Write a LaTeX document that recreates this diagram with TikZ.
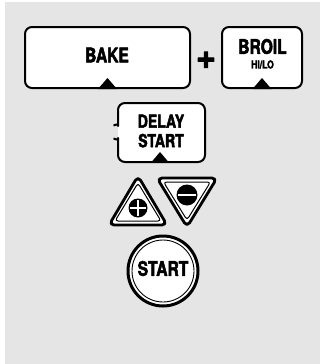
\documentclass[tikz,border=0pt]{standalone}
\usepackage{fontspec}
\newfontfamily\keyfont[FakeStretch=0.78,BoldFeatures={FakeBold=2.5}]{TeX Gyre Heros}
\newfontfamily\signfont[BoldFeatures={FakeBold=3}]{TeX Gyre Heros}
\usetikzlibrary{calc}
\definecolor{panel}{HTML}{E5E5E5}

\begin{document}
\begin{tikzpicture}[x=1pt,y=-1pt,line join=round,
  key/.style={draw,line width=2pt,fill=white,rounded corners=7pt,inner sep=0pt},
  keytext/.style={font=\keyfont\bfseries\fontsize{20}{18}\selectfont,inner sep=0pt},
  smalltext/.style={font=\keyfont\bfseries\fontsize{11}{11}\selectfont,inner sep=0pt},
  pointer/.style={fill=black},
  padring/.style={draw,line width=2.8pt,fill=white,rounded corners=5pt},
  padinner/.style={draw,line width=1pt,rounded corners=3pt}]
  % page with the grey control panel
  \useasboundingbox (0,0) rectangle (320,364);
  \fill[panel] (5,2) rectangle (320,364);

  % top row: BAKE + BROIL
  \node[key,minimum width=165pt,minimum height=61pt] (bake) at (107.5,57.5) {};
  \node[keytext] (bakelabel) at (107,55) {BAKE};
  \fill[pointer] ($(bake.south)+(-9.5,0)$) -- ++(19,0) -- ++(-9.5,-11) -- cycle;

  \node[font=\signfont\bfseries\fontsize{34}{34}\selectfont,inner sep=0pt]
    (plussign) at (206,60) {+};

  \node[key,minimum width=80pt,minimum height=61pt] (broil) at (262,57.5) {};
  \node[keytext] (broillabel) at (262.5,46.5) {BROIL};
  \node[smalltext] (hilolabel) at (262.5,64.5) {HI/LO};
  \fill[pointer] ($(broil.south)+(-9.5,0)$) -- ++(19,0) -- ++(-9.5,-11) -- cycle;

  % DELAY START, left side broken by a small notch
  \fill[white,rounded corners=7pt] (118,103) rectangle (205,162);
  \draw[line width=2pt,rounded corners=7pt]
    (113.5,125.5) .. controls (118,124) .. (118,119) -- (118,103) -- (205,103)
    -- (205,162) -- (118,162) -- (118,145) .. controls (118,140) .. (113.5,138.5);
  \node[keytext,font=\keyfont\bfseries\fontsize{18}{19.5}\selectfont,align=center]
    (delaylabel) at (161,131) {DELAY\\START};
  \coordinate (delaybase) at (160,162);
  \fill[pointer] ($(delaybase)+(-8.5,0)$) -- ++(17,0) -- ++(-8.5,-10) -- cycle;

  % up / down pads
  \begin{scope}[shift={(138,208)}]
    \draw[padring] (0,-32) -- (29,17) -- (-29,17) -- cycle;
    \draw[padinner] (0,-25) -- (23,13) -- (-23,13) -- cycle;
    \fill (0,0) circle (9.5pt);
    \draw[white,line width=1.8pt] (-8,0) -- (8,0) (0,-8) -- (0,8);
  \end{scope}
  \begin{scope}[shift={(187,195)}]
    \draw[padring] (-30,-17) -- (30,-17) -- (0,32) -- cycle;
    \draw[padinner] (-23.5,-13) -- (23.5,-13) -- (0,25) -- cycle;
    \fill (0,0) circle (10.5pt);
    \draw[white,line width=2.2pt] (-9,0) -- (9,0);
  \end{scope}

  % START
  \node[circle,draw,line width=3pt,fill=white,minimum size=70pt,inner sep=0pt]
    (start) at (163,271) {};
  \draw[line width=0.9pt] (start.center) circle (31pt);
  \node[keytext] (startlabel) at (163,268.5) {START};
\end{tikzpicture}
\end{document}
